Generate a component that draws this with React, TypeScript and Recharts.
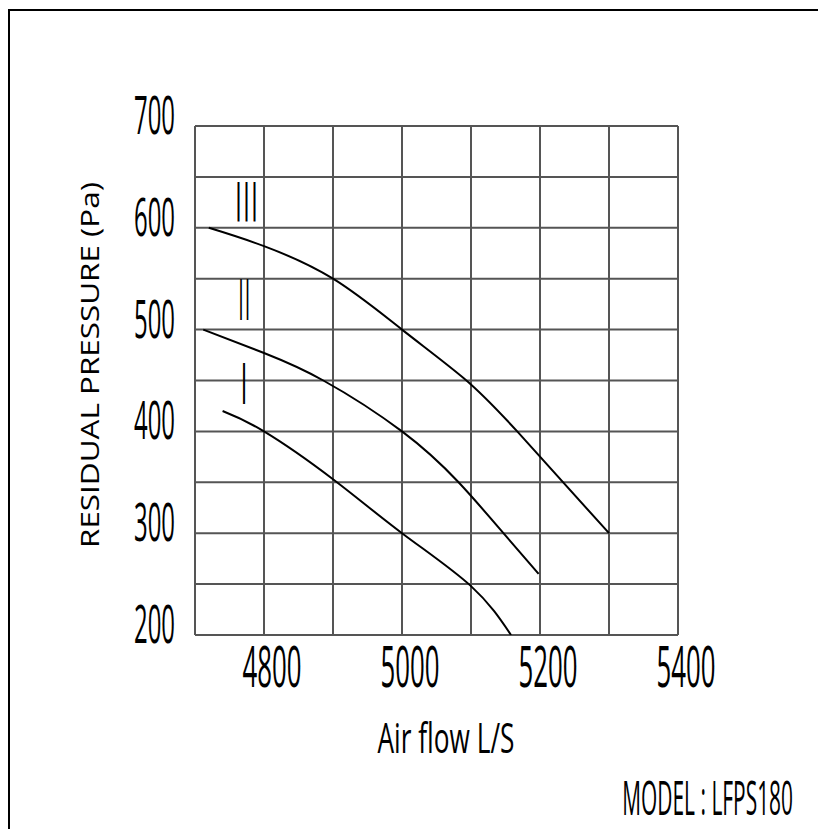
import { CartesianGrid, Line, LineChart, XAxis, YAxis } from "recharts";

// air flow (L/S) vs residual pressure (Pa)
const speedI = [
  { x: 4740, y: 420 },
  { x: 4800, y: 400 },
  { x: 4900, y: 353 },
  { x: 5000, y: 300 },
  { x: 5100, y: 248 },
  { x: 5158, y: 200 },
];
const speedII = [
  { x: 4712, y: 500 },
  { x: 4800, y: 477 },
  { x: 4886, y: 450 },
  { x: 5000, y: 400 },
  { x: 5082, y: 350 },
  { x: 5147, y: 300 },
  { x: 5198, y: 260 },
];
const speedIII = [
  { x: 4720, y: 600 },
  { x: 4800, y: 582 },
  { x: 4900, y: 550 },
  { x: 5000, y: 500 },
  { x: 5090, y: 452 },
  { x: 5167, y: 400 },
  { x: 5300, y: 300 },
];

const xTicks = [4700, 4800, 4900, 5000, 5100, 5200, 5300, 5400];
const xLabels = [4800, 5000, 5200, 5400];
const yTicks = [200, 250, 300, 350, 400, 450, 500, 550, 600, 650, 700];
const yLabels = [200, 300, 400, 500, 600, 700];

const FONT = "'Open Sans', 'DejaVu Sans', sans-serif";
const GRID = "#555";

function XTick({ x, y, payload }: any) {
  if (!xLabels.includes(payload.value)) return null;
  return (
    <text
      x={x + 8}
      y={y + 52}
      textAnchor="middle"
      fontFamily={FONT}
      fontSize={56}
      fill="#000"
      textLength={59}
      lengthAdjust="spacingAndGlyphs"
    >
      {payload.value}
    </text>
  );
}

function YTick({ x, y, payload }: any) {
  if (!yLabels.includes(payload.value)) return null;
  return (
    <text
      x={x - 20}
      y={y + 8}
      textAnchor="end"
      fontFamily={FONT}
      fontSize={53}
      fill="#000"
      textLength={41}
      lengthAdjust="spacingAndGlyphs"
    >
      {payload.value}
    </text>
  );
}

// roman numeral curve tags, drawn as squeezed bars like the CAD font
function Tag({ x, y, size, len, text }: any) {
  return (
    <text
      x={x}
      y={y}
      fontFamily="'DejaVu Sans', sans-serif"
      fontSize={size}
      fill="#000"
      textLength={len}
      lengthAdjust="spacingAndGlyphs"
    >
      {text}
    </text>
  );
}

export default function App() {
  return (
    <div style={{ position: "absolute", left: 0, top: 0, width: 818, height: 829, background: "#fff", overflow: "hidden" }}>
      <div
        style={{
          position: "absolute",
          left: 8,
          top: 9,
          width: 830,
          height: 840,
          borderLeft: "2px solid #000",
          borderTop: "2px solid #000",
        }}
      />
      <LineChart
        width={818}
        height={829}
        margin={{ top: 126, right: 140, bottom: 134, left: 115 }}
        style={{ position: "absolute", left: 0, top: 0 }}
      >
        <CartesianGrid stroke={GRID} strokeWidth={2} />
        <XAxis
          type="number"
          dataKey="x"
          domain={[4700, 5400]}
          ticks={xTicks}
          height={60}
          tick={<XTick />}
          tickLine={false}
          axisLine={false}
          tickSize={0}
          tickMargin={0}
          interval={0}
          allowDataOverflow
        />
        <YAxis
          type="number"
          dataKey="y"
          domain={[200, 700]}
          ticks={yTicks}
          width={80}
          tick={<YTick />}
          tickLine={false}
          axisLine={false}
          tickSize={0}
          tickMargin={0}
          interval={0}
          allowDataOverflow
        />
        <Line data={speedI} dataKey="y" type="natural" stroke="#000" strokeWidth={2} dot={false} isAnimationActive={false} />
        <Line data={speedII} dataKey="y" type="natural" stroke="#000" strokeWidth={2} dot={false} isAnimationActive={false} />
        <Line data={speedIII} dataKey="y" type="natural" stroke="#000" strokeWidth={2} dot={false} isAnimationActive={false} />
      </LineChart>
      <svg width={818} height={829} style={{ position: "absolute", left: 0, top: 0, pointerEvents: "none" }}>
        <Tag x={234.5} y={211.5} size={39} len={24} text="|||" />
        <Tag x={237.8} y={310.3} size={41} len={13} text="||" />
        <Tag x={240} y={393.6} size={40} len={8} text="|" />
        <text
          x={99}
          y={365}
          transform="rotate(-90 99 365)"
          textAnchor="middle"
          fontFamily={FONT}
          fontSize={25}
          fill="#000"
          textLength={366}
          lengthAdjust="spacingAndGlyphs"
        >
          RESIDUAL PRESSURE (Pa)
        </text>
        <text x={446} y={753} textAnchor="middle" fontFamily={FONT} fontSize={42} fill="#000" textLength={137} lengthAdjust="spacingAndGlyphs">
          Air flow L/S
        </text>
        <text
          x={0}
          y={0}
          transform="translate(793 815) scale(0.697 1.6)"
          textAnchor="end"
          fontFamily={FONT}
          fontSize={30}
          fill="#000"
        >
          MODEL : LFPS180
        </text>
      </svg>
    </div>
  );
}
